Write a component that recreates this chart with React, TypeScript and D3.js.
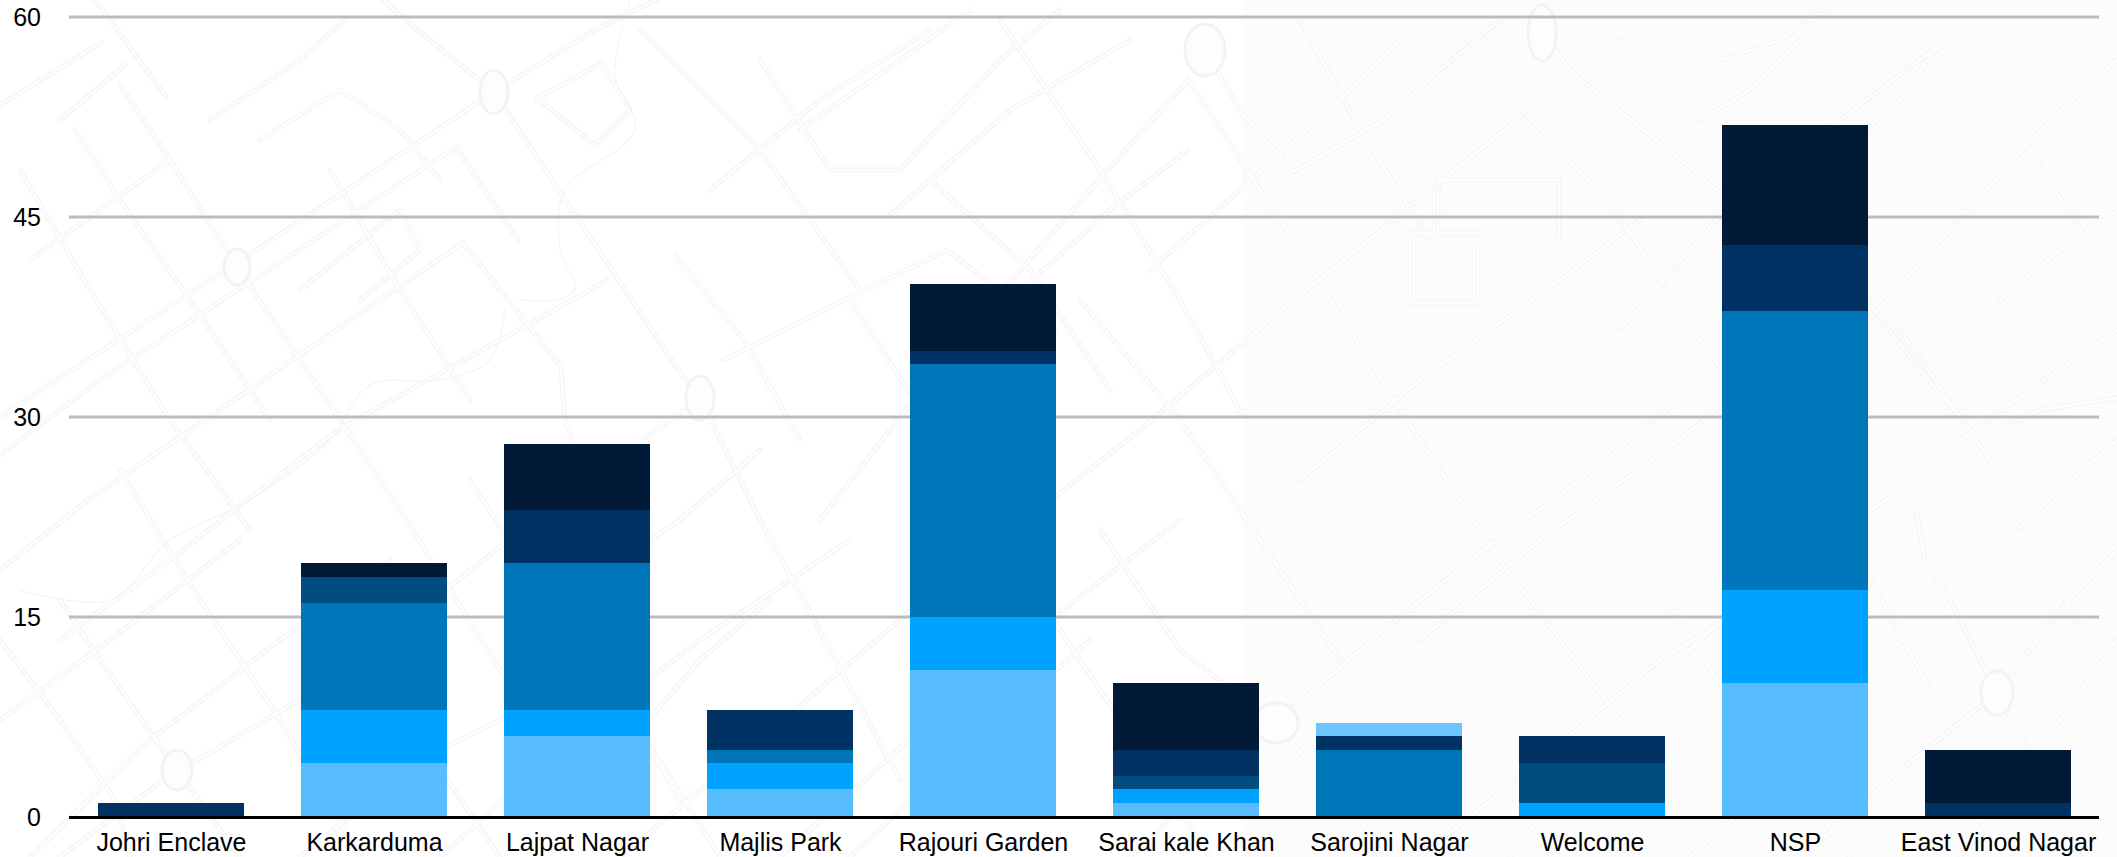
import React from "react";
import * as d3 from "d3";

const categories = ["Johri Enclave", "Karkarduma", "Lajpat Nagar", "Majlis Park", "Rajouri Garden", "Sarai kale Khan", "Sarojini Nagar", "Welcome", "NSP", "East Vinod Nagar"];
const seriesKeys = ["s1", "s2", "s3", "s4", "s5", "s6", "s7"];
const s1 = [0, 4, 6, 2, 11, 1, 0, 0, 10, 0];
const s2 = [0, 4, 2, 2, 4, 1, 0, 1, 7, 0];
const s3 = [0, 8, 11, 1, 19, 0, 5, 0, 21, 0];
const s4 = [0, 2, 0, 0, 0, 1, 0, 3, 0, 0];
const s5 = [1, 0, 4, 3, 1, 2, 1, 2, 5, 1];
const s6 = [0, 1, 5, 0, 5, 5, 0, 0, 9, 4];
const s7 = [0, 0, 0, 0, 0, 0, 1, 0, 0, 0];
const allSeries = [s1, s2, s3, s4, s5, s6, s7];
const seriesColors = ["#58bdff", "#00a2ff", "#0076ba", "#004d80", "#003263", "#001a38", "#6cc5ff"];
const yTicks = [0, 15, 30, 45, 60];

// Faint street-map backdrop.
const roads: [number, number][][] = [
  [[494, 92], [241, 260], [0, 417]],
  [[494, 92], [595, 30], [676, -10]],
  [[494, 92], [405, 20], [372, -10]],
  [[494, 92], [676, 367], [700, 398]],
  [[456, 147], [100, 380], [0, 455]],
  [[456, 147], [500, 213], [518, 240]],
  [[463, 243], [88, 500], [0, 570]],
  [[463, 243], [561, 367], [565, 420], [600, 520]],
  [[723, 360], [947, 250], [1055, 333]],
  [[608, 280], [338, 430], [170, 560], [60, 640]],
  [[676, 257], [744, 340], [800, 440]],
  [[700, 398], [560, 500], [420, 610], [300, 700], [180, 770]],
  [[700, 398], [760, 520], [830, 650], [900, 780]],
  [[101, 43], [0, 105]],
  [[166, 97], [110, 20], [95, 0]],
  [[60, 120], [125, 65]],
  [[537, 98], [602, 63], [630, 110], [595, 145], [537, 98]],
  [[210, 120], [300, 60], [345, 20]],
  [[75, 130], [130, 215], [190, 300], [270, 420]],
  [[237, 267], [170, 160], [120, 85]],
  [[237, 267], [320, 390], [400, 510], [500, 670], [560, 770]],
  [[330, 170], [400, 290], [470, 400]],
  [[300, 290], [400, 210], [420, 250], [360, 300]],
  [[640, 30], [760, 150], [860, 290]],
  [[710, 190], [820, 100], [930, 30]],
  [[800, 130], [900, 60], [970, 10]],
  [[1000, 20], [1100, 170], [1180, 300], [1245, 420]],
  [[890, 215], [1010, 110], [1130, 40]],
  [[1010, 300], [1110, 210], [1188, 150]],
  [[1188, 80], [1090, 190], [960, 340], [820, 520]],
  [[1188, 80], [1293, 240], [1400, 410], [1500, 560], [1620, 720]],
  [[1293, 172], [1384, 120], [1440, 70], [1500, 20]],
  [[1293, 172], [1242, 113], [1205, 50]],
  [[1525, 113], [1397, 217], [1270, 320], [1140, 430], [1000, 540]],
  [[1525, 113], [1613, 207], [1700, 340], [1780, 450]],
  [[1542, 33], [1572, 72], [1721, 193], [1800, 300]],
  [[1438, 180], [1559, 180], [1559, 240], [1438, 240], [1438, 180]],
  [[1410, 233], [1478, 233], [1478, 303], [1410, 303], [1410, 233]],
  [[1722, 60], [1780, 40], [1830, 5]],
  [[1830, 180], [1900, 100], [1937, 47], [2010, 120], [2100, 260]],
  [[1860, 330], [1950, 230], [2050, 120], [2117, 60]],
  [[1937, 47], [1840, 120], [1770, 170]],
  [[2004, 427], [2040, 410], [2117, 398]],
  [[1937, 480], [1916, 513], [1925, 560], [1950, 600], [1997, 693]],
  [[2017, 530], [2060, 490], [2117, 440]],
  [[1997, 693], [1900, 770], [1810, 850]],
  [[1997, 693], [2060, 610], [2117, 550]],
  [[1997, 693], [2040, 770], [2080, 857]],
  [[1276, 723], [1180, 650], [1100, 530]],
  [[1276, 723], [1360, 650], [1470, 560], [1580, 480], [1680, 400]],
  [[1276, 723], [1200, 790], [1130, 857]],
  [[1276, 723], [1340, 800], [1380, 857]],
  [[1510, 857], [1600, 740], [1700, 640], [1800, 560], [1900, 490]],
  [[1690, 857], [1800, 760], [1900, 640]],
  [[1090, 640], [1000, 720], [900, 810], [850, 857]],
  [[960, 480], [1040, 600], [1120, 720], [1210, 857]],
  [[720, 857], [640, 730], [700, 660], [770, 600]],
  [[177, 770], [100, 660], [60, 600]],
  [[177, 770], [60, 857]],
  [[177, 770], [240, 857]],
  [[0, 640], [60, 720], [115, 800], [130, 857]],
  [[300, 857], [420, 760], [540, 700], [620, 640]],
  [[340, 620], [420, 740], [500, 857]],
  [[0, 720], [110, 640], [240, 540]],
  [[30, 857], [150, 740], [280, 640], [390, 560]],
  [[560, 600], [680, 520], [760, 450]],
  [[440, 857], [570, 740], [700, 640], [850, 540]],
  [[620, 857], [760, 740], [900, 620], [1040, 500]],
  [[780, 857], [920, 730], [1050, 620], [1180, 520]],
  [[930, 180], [1030, 270], [1110, 390]],
  [[850, 300], [940, 440], [1010, 560]],
  [[760, 60], [830, 170], [900, 170], [1000, 60], [1060, 10]],
  [[1080, 300], [1180, 420], [1260, 540], [1340, 660]],
  [[1300, 480], [1420, 380], [1560, 280], [1640, 220]],
  [[1420, 640], [1540, 540], [1680, 440], [1820, 320]],
  [[1420, 857], [1540, 760], [1660, 660], [1760, 600]],
  [[1640, 560], [1730, 700], [1810, 800], [1850, 857]],
  [[1760, 430], [1860, 560], [1930, 690]],
  [[1900, 330], [1990, 460], [2040, 560], [2090, 640]],
  [[1820, 240], [1920, 370], [1970, 430]],
  [[2000, 300], [2060, 250], [2117, 210]],
  [[2117, 330], [2030, 390], [1960, 440]],
  [[2117, 640], [2060, 720], [2010, 790], [1960, 857]],
  [[1300, 20], [1360, 130], [1430, 240]],
  [[1150, 270], [1240, 190], [1340, 100], [1400, 40]],
  [[1620, 40], [1700, 120], [1750, 90], [1800, 40]],
  [[1620, 330], [1690, 250], [1760, 170]],
  [[260, 140], [340, 90], [400, 130], [440, 180]],
  [[30, 260], [100, 210], [170, 160]],
  [[20, 170], [90, 290], [170, 420], [250, 530]],
  [[120, 470], [200, 600], [280, 720], [360, 857]],
  [[470, 480], [540, 590], [620, 700], [680, 800]],
];
const minorCurves: [number, number][][] = [
  [[630, 0], [615, 75], [635, 130], [565, 190], [560, 250], [575, 290], [555, 300], [520, 300]],
  [[505, 310], [490, 360], [440, 380], [370, 385], [330, 440], [250, 500], [170, 540], [110, 600], [20, 590]],
];
const roundabouts: [number, number, number, number][] = [
  [494, 92, 14, 22],
  [700, 398, 14, 22],
  [237, 267, 13, 18],
  [1205, 50, 20, 26],
  [1542, 33, 14, 28],
  [1997, 693, 16, 22],
  [1276, 723, 22, 20],
  [177, 770, 15, 20],
];

const roadLine = d3.line<[number, number]>().curve(d3.curveLinear);
const softLine = d3.line<[number, number]>().curve(d3.curveCatmullRom);

export default function App() {
  const width = 2117;
  const height = 857;
  const x = d3.scaleBand<string>().domain(categories).range([70, 2100]).paddingInner(0.28).paddingOuter(0.14);
  const y = d3.scaleLinear().domain([0, 60]).range([817, 17]);
  const yBar = d3.scaleLinear().domain([0, 60]).range([816, 18.6]);
  const rows = categories.map((c, i) => {
    const r: Record<string, any> = { category: c };
    seriesKeys.forEach((k, j) => (r[k] = allSeries[j][i]));
    return r;
  });
  const layers = d3.stack<any>().keys(seriesKeys)(rows);
  const font = "'Liberation Sans', Helvetica, Arial, sans-serif";
  return (
    <svg width={width} height={height} style={{ position: "absolute", left: 0, top: 0, background: "#fff" }}>
      <rect x={1242} y={0} width={width - 1242} height={height} fill="#fcfcfc" />
      <g fill="none" strokeLinejoin="round" strokeLinecap="round">
        {roads.map((r, i) => <path key={i} d={roadLine(r) as string} stroke="#f4f4f4" strokeWidth={5} />)}
        {roads.map((r, i) => <path key={i} d={roadLine(r) as string} stroke="#fdfdfd" strokeWidth={2.8} />)}
        {minorCurves.map((r, i) => <path key={i} d={softLine(r) as string} stroke="#f4f4f4" strokeWidth={1.2} />)}
        {roundabouts.map(([cx, cy, rx, ry], i) => (
          <ellipse key={i} cx={cx} cy={cy} rx={rx} ry={ry} stroke="#f3f3f3" strokeWidth={3} fill="#fdfdfd" />
        ))}
      </g>
      <g>
        {yTicks.filter((t) => t !== 0).map((t) => (
          <line key={t} x1={69} x2={2099} y1={y(t)} y2={y(t)} stroke="#bcbcbc" strokeWidth={3} />
        ))}
      </g>
      <g shapeRendering="crispEdges">
        {layers.map((layer, i) => (
          <g key={layer.key} fill={seriesColors[i]}>
            {layer.filter((d) => d[1] > d[0]).map((d) => (
              <rect
                key={d.data.category}
                x={Math.round(x(d.data.category) as number)}
                y={Math.round(yBar(d[1]))}
                width={Math.round(x.bandwidth())}
                height={Math.round(yBar(d[0])) - Math.round(yBar(d[1]))}
              />
            ))}
          </g>
        ))}
      </g>
      <line x1={69} x2={2099} y1={y(0) + 0.5} y2={y(0) + 0.5} stroke="#000" strokeWidth={3} />
      <g fontFamily={font} fontSize={25} fill="#000">
        {yTicks.map((t) => (
          <text key={t} x={41} y={y(t) + 9} textAnchor="end">{t}</text>
        ))}
        {categories.map((c) => (
          <text key={c} x={(x(c) as number) + x.bandwidth() / 2} y={851} textAnchor="middle">{c}</text>
        ))}
      </g>
    </svg>
  );
}
